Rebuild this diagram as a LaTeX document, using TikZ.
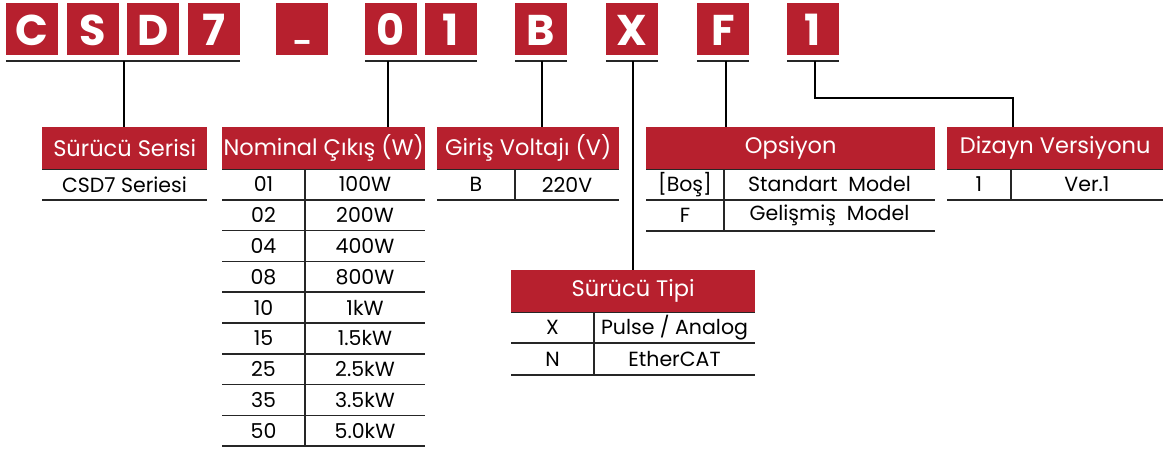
\documentclass[tikz,border=0pt]{standalone}
\usepackage{fontspec}
\setmainfont{Poppins}
\definecolor{codered}{RGB}{183,32,46}

\begin{document}
\begin{tikzpicture}[x=1pt,y=-1pt,
    key/.style={fill=codered,text=white,minimum width=52pt,minimum height=52pt,inner sep=0pt,
                text height=32pt,text depth=0pt,font=\fontsize{43}{43}\selectfont\bfseries},
    head/.style={fill=codered,text=white,minimum height=42pt,inner sep=0pt,anchor=north west,font=\fontsize{22.5}{24}\selectfont},
    cell/.style={inner sep=0pt,font=\fontsize{20.5}{22}\selectfont},
    rule/.style={line width=1.5pt,black!85},
    link/.style={line width=1.4pt}]

\useasboundingbox (0,0) rectangle (1168,450);

% code letters
\foreach \ch/\x/\nm in {C/32/kC, S/93/kS, D/153/kD, 7/214/kSeven, {\fontsize{24}{24}\selectfont\raisebox{6pt}{\_}}/302/kDash,
                        0/391/kZero, 1/451/kOne, B/541/kB, X/632/kX, F/723/kF, 1/813/kVer}
    \node[key] (\nm) at (\x,29) {\ch};

% underlines
\draw[rule] ([yshift=-6pt]kC.south west) -- ([yshift=-6pt]kSeven.south east);
\draw[rule] ([yshift=-6pt]kZero.south west) -- ([yshift=-6pt]kOne.south east);
\draw[rule] ([yshift=-6pt]kB.south west) -- ([yshift=-6pt]kB.south east);
\draw[rule] ([yshift=-6pt]kX.south west) -- ([yshift=-6pt]kX.south east);
\draw[rule] ([yshift=-6pt]kF.south west) -- ([yshift=-6pt]kF.south east);
\draw[rule] ([yshift=-6pt]kVer.south west) -- ([yshift=-6pt]kVer.south east);

\coordinate (uSer) at (124,61);
\coordinate (uNom) at (388,61);
\coordinate (uVolt) at (542,61);
\coordinate (uTip) at (633,61);
\coordinate (uOps) at (726,61);
\coordinate (uDiz) at (815,61);
\coordinate (bDiz) at (815,98);

% headers
\node[head,minimum width=165pt] (ser)  at (42,127)  {Sürücü Serisi};
\node[head,minimum width=203pt] (nom)  at (222,127) {Nominal Çıkış (W)};
\node[head,minimum width=182pt] (volt) at (437,127) {Giriş Voltajı (V)};
\node[head,minimum width=289pt] (ops)  at (646,127) {Opsiyon};
\node[head,minimum width=216pt] (diz)  at (947,127) {Dizayn Versiyonu};
\node[head,minimum width=244pt] (tip)  at (511,270) {Sürücü Tipi};

\foreach \h in {ser,nom,volt,ops,diz,tip}
    \draw[rule] (\h.south west) -- (\h.south east);

% connectors
\draw[link] (uSer) -- (uSer |- ser.north);
\draw[link] (uNom) -- (uNom |- nom.north);
\draw[link] (uVolt) -- (uVolt |- volt.north);
\draw[link] (uTip) -- (uTip |- tip.north);
\draw[link] (uOps) -- (uOps |- ops.north);
\draw[link] (uDiz) -- (bDiz) -| (1013,127);

% Surucu Serisi
\node[cell] (serA) at (124.5,184.5) {CSD7 Seriesi};
\draw[rule] (42,200) -- (207,200);

% Nominal cikis
\foreach \code/\pw [count=\i] in {01/100W, 02/200W, 04/400W, 08/800W, 10/1kW,
                                  15/1.5kW, 25/2.5kW, 35/3.5kW, 50/5.0kW} {
    \node[cell] (nomA\i) at (263.5,169+30.8*\i-15.4) {\code};
    \node[cell] (nomB\i) at (365,169+30.8*\i-15.4) {\pw};
    \draw[rule] (222,169+30.8*\i) -- (425,169+30.8*\i);
}
\draw[rule] (305,169) -- (305,446);

% Giris voltaji
\node[cell] (voltA) at (476,184.5) {B};
\node[cell] (voltB) at (567,184.5) {220V};
\draw[rule] (437,200) -- (619,200);
\draw[rule] (515,169) -- (515,200);

% Opsiyon
\node[cell] (opsA1) at (685,184.5) {[Boş]};
\node[cell] (opsB1) at (829.5,184.5) {Standart\ \ Model};
\node[cell] (opsA2) at (685,215.5) {F};
\node[cell] (opsB2) at (829.5,215.5) {Gelişmiş\ \ Model};
\draw[rule] (646,200) -- (935,200);
\draw[rule] (646,231) -- (935,231);
\draw[rule] (724,169) -- (724,231);

% Dizayn versiyonu
\node[cell] (dizA) at (979,184.5) {1};
\node[cell] (dizB) at (1087,184.5) {Ver.1};
\draw[rule] (947,200) -- (1163,200);
\draw[rule] (1011,169) -- (1011,200);

% Surucu tipi
\node[cell] (tipA1) at (552.5,327.5) {X};
\node[cell] (tipB1) at (674.5,327.5) {Pulse / Analog};
\node[cell] (tipA2) at (552.5,359) {N};
\node[cell] (tipB2) at (674.5,359) {EtherCAT};
\draw[rule] (511,343) -- (755,343);
\draw[rule] (511,375) -- (755,375);
\draw[rule] (594,312) -- (594,375);

\end{tikzpicture}
\end{document}
